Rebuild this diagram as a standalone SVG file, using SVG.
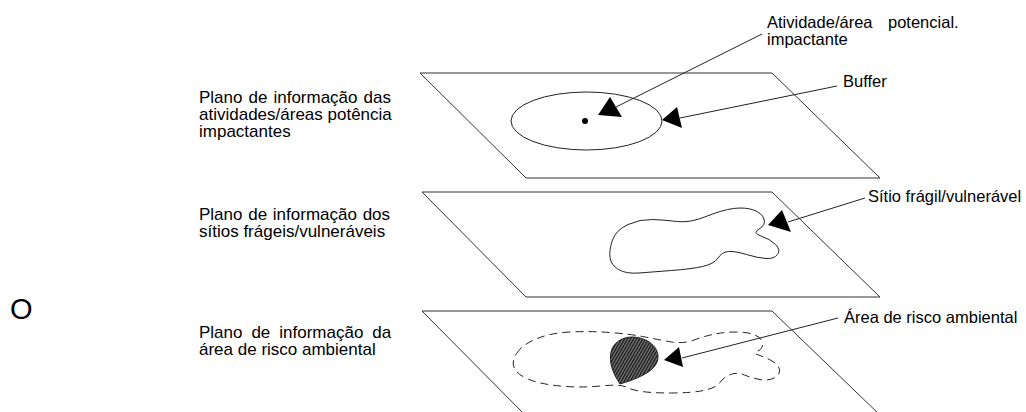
<svg xmlns="http://www.w3.org/2000/svg" width="1026" height="412" viewBox="0 0 1026 412">
<style>
.plane{fill:none;stroke:#333;stroke-width:1}
.shape{fill:none;stroke:#222;stroke-width:1}
.dash{fill:none;stroke:#222;stroke-width:1;stroke-dasharray:8 5}
.lead{fill:none;stroke:#222;stroke-width:1}
.head{fill:#000;stroke:none}
.lbl{font-family:"Liberation Sans",Arial,sans-serif;font-size:17px;fill:#000}
.call{font-family:"Liberation Sans",Arial,sans-serif;font-size:16.5px;fill:#000}
</style>
<defs>
<pattern id="hatch" width="2.6" height="6" patternUnits="userSpaceOnUse" patternTransform="rotate(30)">
<rect width="2.6" height="6" fill="#7a7a7a"/>
<line x1="0.6" y1="0" x2="0.6" y2="6" stroke="#111" stroke-width="1.3"/>
</pattern>
</defs>
<rect width="1026" height="412" fill="#fff"/>

<g id="label-O"><text x="10" y="319" style="font-family:'Liberation Sans',Arial,sans-serif;font-size:29px">O</text></g>

<g id="label-plane1">
<text class="lbl" x="199" y="103" word-spacing="1.3">Plano de informação das</text>
<text class="lbl" x="199" y="120">atividades/áreas potência</text>
<text class="lbl" x="199" y="137">impactantes</text>
</g>
<g id="label-plane2">
<text class="lbl" x="199" y="220" word-spacing="1">Plano de informação dos</text>
<text class="lbl" x="199" y="237">sítios frágeis/vulneráveis</text>
</g>
<g id="label-plane3">
<text class="lbl" x="199" y="338" word-spacing="4.2">Plano de informação da</text>
<text class="lbl" x="199" y="355">área de risco ambiental</text>
</g>

<g id="plane1">
<polygon class="plane" points="420,73 772,73 880,178 526,178"/>
<ellipse class="shape" cx="586.5" cy="121" rx="75.5" ry="29"/>
<circle cx="585" cy="121" r="3" fill="#000"/>
</g>

<g id="plane2">
<polygon class="plane" points="422,192 772,192 880,297 526,297"/>
<path class="shape" d="M612.5,240 Q616,230 628,224.5 Q640,219 652.5,219.5 Q665,220 677.5,221.5 Q690,223 706,216.5 Q722,210 733.5,208.5 Q745,207 753.5,210 Q762,213 764,219 Q766,225 759,229 Q752,233 761,236 Q770,239 775.5,244.5 Q781,250 777.5,254.5 Q774,259 766,258.5 Q758,258 746.5,254.5 Q735,251 728.5,251.5 Q722,252 718,258 Q714,264 702.5,266.5 Q691,269 671.5,270.5 Q652,272 639,273 Q626,274 618.5,269.5 Q611,265 610,257.5 Q609,250 612.5,240 Z"/>
</g>

<g id="plane3">
<polygon class="plane" points="422,311 772,311 882,417 527,417"/>
<path class="dash" d="M516.5,353.5 Q522,345 536,339 Q550,333 570,332 Q590,331 610,332.5 Q630,334 645,337 Q660,340 671.5,342 Q683,344 694,340 Q705,336 715,334 Q725,332 736.5,332 Q748,332 755,335 Q762,338 762.5,343.5 Q763,349 757.5,351 Q752,353 758.5,355 Q765,357 772,361 Q779,365 779.5,370 Q780,375 774,378 Q768,381 760,379.5 Q752,378 744.5,375 Q737,372 730.5,374.5 Q724,377 720,382.5 Q716,388 703.5,390.5 Q691,393 671.5,393 Q652,393 642,391.5 Q632,390 626,387 Q620,384 600,386 Q580,388 560,386 Q540,384 529,379.5 Q518,375 514.5,368.5 Q511,362 516.5,353.5 Z"/>
<path d="M632,337 C645,337 658,345 658,357 C658,370 640,378 620,384 C612,372 609,362 611,352 C613,343 622,337 632,337 Z" fill="url(#hatch)" stroke="#222" stroke-width="1"/>
</g>

<g id="callout-activity">
<text class="call" x="767" y="28">Atividade/área</text>
<text class="call" x="888" y="28">potencial.</text>
<text class="call" x="767" y="45">impactante</text>
</g>
<g id="callout-buffer"><text class="call" x="843" y="87">Buffer</text></g>
<g id="callout-site"><text class="call" x="868" y="202">Sítio frágil/vulnerável</text></g>
<g id="callout-risk"><text class="call" x="844" y="323">Área de risco ambiental</text></g>

<g id="connectors">
<line class="lead" x1="762" y1="34" x2="616" y2="107"/>
<polygon class="head" points="610,97 598,115 622,117"/>
<line class="lead" x1="837" y1="86" x2="680" y2="118"/>
<polygon class="head" points="677,107 662,120 682,128"/>
<line class="lead" x1="865" y1="198" x2="788" y2="222"/>
<polygon class="head" points="782,210 768,225 791,232"/>
<line class="lead" x1="838" y1="318" x2="682" y2="358"/>
<polygon class="head" points="679,347 664,360 683,367"/>
</g>
</svg>
